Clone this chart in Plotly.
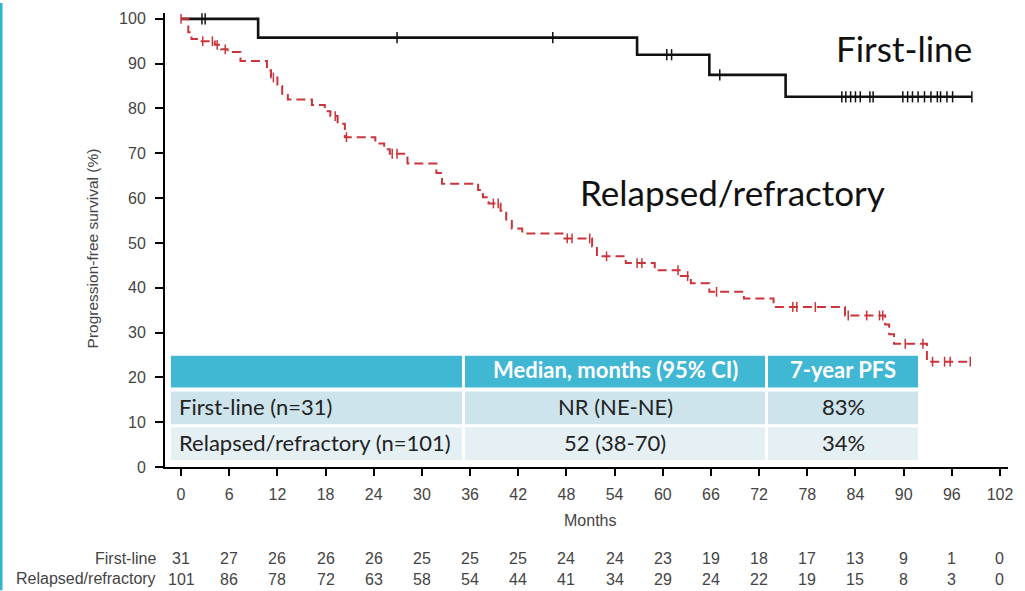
import numpy as np
import plotly.graph_objects as go

# ---------------- data ----------------
months_ticks = list(range(0, 103, 6))
surv_ticks = list(range(0, 101, 10))

# First-line KM step function
fl_time = [0, 9.6, 56.8, 65.8, 75.3]
fl_surv = [100, 95.8, 92.0, 87.5, 82.6]
fl_end = 98.5
fl_censor = [2.6, 3.0, 26.9, 46.3, 60.5, 61.1, 67.1, 82.3, 82.8, 83.4, 84.0,
             84.6, 85.8, 86.2, 89.9, 90.5, 91.1, 91.8, 92.6, 93.4, 94.2, 94.6,
             95.4, 96.1, 98.5]

# Relapsed/refractory KM step function
rr_time = [0, 0.9, 1.3, 2.2, 4.2, 5.0, 5.8, 7.4, 10.7, 11.2, 12.0, 12.6, 13.3,
           16.3, 17.9, 18.6, 19.5, 20.4, 24.2, 25.3, 26.0, 28.2, 31.8, 32.5,
           37.0, 37.6, 38.3, 39.8, 40.5, 41.2, 42.5, 47.5, 51.2, 51.8, 55.4,
           59.0, 62.1, 63.5, 65.8, 70.1, 73.8, 82.7, 87.7, 88.2, 88.8, 92.9]
rr_surv = [100, 97.0, 95.5, 95.0, 94.2, 93.2, 92.6, 90.6, 88.5, 86.9, 85.0,
           83.3, 82.0, 80.8, 79.4, 78.3, 76.6, 73.6, 72.2, 70.9, 69.9, 67.7,
           65.6, 63.2, 61.8, 60.2, 58.8, 57.2, 55.2, 53.2, 52.1, 51.0, 49.2,
           47.0, 45.5, 43.9, 42.6, 41.0, 39.1, 37.6, 35.7, 33.8, 31.8, 29.6,
           27.5, 23.5]
rr_end = 98.3
rr_censor = [0.0, 2.7, 3.9, 4.5, 5.5, 11.5, 19.2, 20.6, 26.3, 26.9, 38.9, 39.5,
             48.1, 48.7, 50.9, 53.0, 56.8, 57.4, 61.9, 63.1, 66.7, 76.2, 76.7,
             79.0, 83.1, 85.4, 87.0, 87.4, 90.2, 92.4, 93.6, 95.1, 95.8, 98.3]

risk_first = [31, 27, 26, 26, 26, 25, 25, 25, 24, 24, 23, 19, 18, 17, 13, 9, 1, 0]
risk_rr = [101, 86, 78, 72, 63, 58, 54, 44, 41, 34, 29, 24, 22, 19, 15, 8, 3, 0]
risk_labels = ["First-line", "Relapsed/refractory"]

table_header = ["", "Median, months (95% CI)", "7-year PFS"]
table_rows = [["First-line (n=31)", "NR (NE-NE)", "83%"],
              ["Relapsed/refractory (n=101)", "52 (38-70)", "34%"]]

curve_labels = ["First-line", "Relapsed/refractory"]

# ---------------- helpers ----------------
def step_value(times, surv, t):
    idx = np.searchsorted(np.array(times), np.array(t), side="right") - 1
    return np.array(surv)[idx]

L, R, T, B = 165, 17, 10, 124
W, H = 1025, 591
PW, PH = W - L - R, H - T - B

def px_x(px):
    return (px - L) / PW

def px_y(py):
    return (H - B - py) / PH

RED = "#c9353b"
BLACK = "#111111"
TEAL = "#40b7d3"
ROW1 = "#cde4ec"
ROW2 = "#e5f0f5"

fig = go.Figure()

# first-line curve
fig.add_trace(go.Scatter(
    x=fl_time + [fl_end], y=fl_surv + [fl_surv[-1]],
    mode="lines", line=dict(color=BLACK, width=2.6, shape="hv"),
    showlegend=False, hoverinfo="skip"))
fig.add_trace(go.Scatter(
    x=fl_censor, y=step_value(fl_time, fl_surv, fl_censor),
    mode="markers", marker=dict(symbol="line-ns-open", size=8, color=BLACK,
                                line=dict(color=BLACK, width=1.5)),
    showlegend=False, hoverinfo="skip"))

# relapsed/refractory curve
fig.add_trace(go.Scatter(
    x=rr_time + [rr_end], y=rr_surv + [rr_surv[-1]],
    mode="lines", line=dict(color=RED, width=2, shape="hv", dash="9px,5px"),
    showlegend=False, hoverinfo="skip"))
fig.add_trace(go.Scatter(
    x=rr_censor, y=step_value(rr_time, rr_surv, rr_censor),
    mode="markers", marker=dict(symbol="line-ns-open", size=7, color=RED,
                                line=dict(color=RED, width=1.5)),
    showlegend=False, hoverinfo="skip"))

shapes = []
annotations = []

# left slide border
shapes.append(dict(type="rect", xref="paper", yref="paper",
                   x0=px_x(0), x1=px_x(2.5), y0=px_y(H), y1=px_y(0),
                   fillcolor="#2fb4d0", line=dict(width=0), layer="above"))

# summary table
cols = [(171, 462), (465, 765), (768, 918)]
rows = [(355, 387, TEAL), (391, 424, ROW1), (427, 460, ROW2)]
for (y0, y1, col) in rows:
    for (x0, x1) in cols:
        shapes.append(dict(type="rect", xref="paper", yref="paper",
                           x0=px_x(x0), x1=px_x(x1), y0=px_y(y1), y1=px_y(y0),
                           fillcolor=col, line=dict(width=0), layer="above"))

TFONT = "Lato, 'Open Sans', sans-serif"
for j, txt in enumerate(table_header):
    if not txt:
        continue
    cx = (cols[j][0] + cols[j][1]) / 2
    annotations.append(dict(xref="paper", yref="paper", x=px_x(cx), y=px_y(369),
                            text="<b>" + txt + "</b>", showarrow=False,
                            font=dict(family=TFONT, size=22, color="white"),
                            xanchor="center", yanchor="middle"))
for i, row in enumerate(table_rows):
    cy = (rows[i + 1][0] + rows[i + 1][1]) / 2 - 1
    for j, txt in enumerate(row):
        if j == 0:
            x, anchor = px_x(177), "left"
        else:
            x, anchor = px_x((cols[j][0] + cols[j][1]) / 2), "center"
        annotations.append(dict(xref="paper", yref="paper", x=x, y=px_y(cy),
                                text=txt, showarrow=False,
                                font=dict(family=TFONT, size=22, color="#222222"),
                                xanchor=anchor, yanchor="middle"))

# curve labels
annotations.append(dict(xref="paper", yref="paper", x=px_x(904), y=px_y(45),
                        text=curve_labels[0], showarrow=False,
                        font=dict(family=TFONT, size=35, color="#111111"),
                        xanchor="center", yanchor="middle"))
annotations.append(dict(xref="paper", yref="paper", x=px_x(732), y=px_y(190),
                        text=curve_labels[1], showarrow=False,
                        font=dict(family=TFONT, size=35, color="#111111"),
                        xanchor="center", yanchor="middle"))

AFONT = "'Liberation Sans', Arial, sans-serif"
# axis titles
annotations.append(dict(xref="paper", yref="paper", x=px_x(92), y=px_y(247),
                        text="Progression-free survival (%)", showarrow=False,
                        textangle=-90,
                        font=dict(family=AFONT, size=15.5, color="#444444"),
                        xanchor="center", yanchor="middle"))
annotations.append(dict(xref="paper", yref="paper", x=px_x(590), y=px_y(521),
                        text="Months", showarrow=False,
                        font=dict(family=AFONT, size=16, color="#444444"),
                        xanchor="center", yanchor="middle"))

# risk table
for k, (lab, vals, py) in enumerate([(risk_labels[0], risk_first, 559),
                                     (risk_labels[1], risk_rr, 579)]):
    annotations.append(dict(xref="paper", yref="paper", x=px_x(158), y=px_y(py),
                            text=lab, showarrow=False,
                            font=dict(family=AFONT, size=16, color="#444444"),
                            xanchor="right", yanchor="middle"))
    for m, v in zip(months_ticks, vals):
        annotations.append(dict(xref="x", yref="paper", x=m, y=px_y(py + (1 if k == 1 else 0)),
                                text=str(v), showarrow=False,
                                font=dict(family=AFONT, size=16, color="#444444"),
                                xanchor="center", yanchor="middle"))

fig.update_layout(
    width=W, height=H,
    margin=dict(l=L, r=R, t=T, b=B),
    paper_bgcolor="white", plot_bgcolor="white",
    shapes=shapes, annotations=annotations,
    xaxis=dict(range=[-2, 103], tickvals=months_ticks, ticks="outside",
               ticklen=7, tickwidth=2, tickcolor="black", showline=True,
               linewidth=2, linecolor="black", showgrid=False, zeroline=False,
               ticklabelstandoff=5,
               tickfont=dict(family=AFONT, size=16, color="#444444")),
    yaxis=dict(range=[0, 101.3], tickvals=surv_ticks, ticks="outside",
               ticklen=8, tickwidth=2, tickcolor="black", showline=True,
               linewidth=2, linecolor="black", showgrid=False, zeroline=False,
               ticklabelstandoff=6,
               tickfont=dict(family=AFONT, size=16, color="#444444")),
)

fig.write_html("out.html")
